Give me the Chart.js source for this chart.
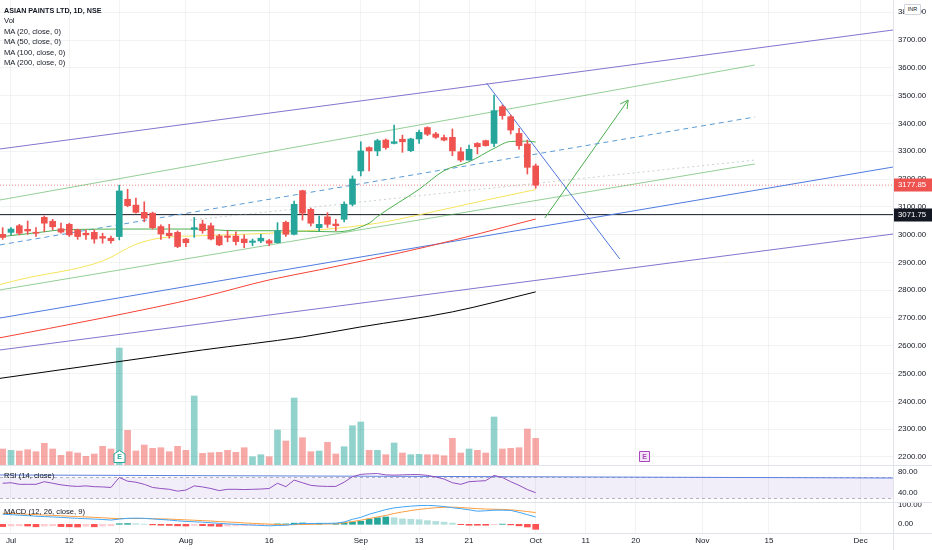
<!DOCTYPE html>
<html>
<head>
<meta charset="utf-8">
<title>ASIAN PAINTS LTD, 1D, NSE</title>
<script src="https://cdn.jsdelivr.net/npm/chart.js@4.4.1/dist/chart.umd.min.js"></script>
<style>
  html, body { margin:0; padding:0; background:#fff; }
  #wrap { position:relative; width:932px; height:550px; overflow:hidden; font-family:"Liberation Sans", Arial, sans-serif; color:#131722; }
  .pane { position:absolute; left:0; width:932px; }
  .txt { position:absolute; left:4px; font-size:7.6px; line-height:10px; white-space:nowrap; }
  .sep { position:absolute; background:#e0e3eb; }
  #inr { position:absolute; left:904px; top:4px; width:15px; height:9px; border:1px solid #d1d4dc; background:#fff;
         font-size:5.5px; line-height:9px; text-align:center; color:#131722; border-radius:1px; }
</style>
</head>
<body>
<div id="wrap">
  <div class="pane" style="top:0;height:465px"><canvas id="priceChart"></canvas></div>
  <div class="pane" style="top:466px;height:36px"><canvas id="rsiChart"></canvas></div>
  <div class="pane" style="top:503px;height:47px"><canvas id="macdChart"></canvas></div>

  <div class="sep" style="left:0;top:465px;width:932px;height:1px"></div>
  <div class="sep" style="left:0;top:502px;width:932px;height:1px"></div>
  <div class="sep" style="left:0;top:533px;width:932px;height:1px"></div>
  <div class="sep" style="left:893px;top:0;width:1px;height:550px"></div>

  <div class="txt" style="top:6px;font-weight:bold;font-size:7.2px">ASIAN PAINTS LTD, 1D, NSE</div>
  <div class="txt" style="top:16px">Vol</div>
  <div class="txt" style="top:27px">MA (20, close, 0)</div>
  <div class="txt" style="top:37px">MA (50, close, 0)</div>
  <div class="txt" style="top:48px">MA (100, close, 0)</div>
  <div class="txt" style="top:58px">MA (200, close, 0)</div>
  <div class="txt" style="top:471px">RSI (14, close)</div>
  <div class="txt" style="top:507px">MACD (12, 26, close, 9)</div>
  <div id="inr">INR</div>
</div>

<script>
// Bars, Jun 30 .. Oct 1 (first bar is index -1, Jul 1 is index 0)
const barDates = [
  "Jun 30","Jul 1","Jul 2","Jul 5","Jul 6","Jul 7","Jul 8","Jul 9","Jul 12","Jul 13","Jul 14","Jul 15","Jul 16",
  "Jul 19","Jul 20","Jul 22","Jul 23","Jul 26","Jul 27","Jul 28","Jul 29","Jul 30",
  "Aug 2","Aug 3","Aug 4","Aug 5","Aug 6","Aug 9","Aug 10","Aug 11","Aug 12","Aug 13","Aug 16","Aug 17","Aug 18",
  "Aug 20","Aug 23","Aug 24","Aug 25","Aug 26","Aug 27","Aug 30","Aug 31",
  "Sep 1","Sep 2","Sep 3","Sep 6","Sep 7","Sep 8","Sep 9","Sep 13","Sep 14","Sep 15","Sep 16","Sep 17",
  "Sep 20","Sep 21","Sep 22","Sep 23","Sep 24","Sep 27","Sep 28","Sep 29","Sep 30","Oct 1"
];
const opens  = [3001,3008,3032,3019,3008,3062,3048,3021,3037,3017,3005,3008,2993,2987,2993,3127,3106,3080,3077,3029,3005,3008,
  2984,3019,3038,3032,2995,2995,2995,2984,2972,2977,2978,2971,3044,3001,3158,3091,3025,3064,3038,3055,3109,
  3229,3313,3301,3340,3328,3343,3302,3344,3385,3362,3349,3350,3298,3268,3328,3338,3328,3460,3424,3364,3326,3247];
const highs  = [3025,3025,3037,3049,3025,3067,3055,3041,3041,3020,3017,3017,3005,2995,3178,3163,3131,3118,3081,3035,3037,3013,
  2987,3062,3052,3041,3001,3014,3010,2999,2984,3001,2983,3043,3049,3121,3160,3095,3067,3079,3055,3118,3211,
  3334,3316,3343,3344,3394,3358,3347,3376,3388,3368,3358,3380,3313,3322,3331,3340,3502,3466,3430,3382,3340,3254];
const lows   = [2983,2999,2999,3001,2993,3010,3017,3005,2993,2983,2983,2969,2969,2969,2981,3100,3077,3046,3020,2983,2987,2953,
  2957,2990,3005,2981,2960,2974,2963,2953,2960,2971,2960,2969,2993,2999,3052,3031,3013,3026,3014,3046,3103,
  3211,3229,3284,3307,3326,3296,3298,3328,3356,3346,3337,3284,3262,3268,3290,3318,3316,3415,3362,3307,3218,3167];
const closes = [2990,3020,3005,3013,3005,3041,3028,3009,2999,2993,2999,2984,2987,2978,3157,3104,3080,3059,3025,3002,2996,2957,
  2971,3025,3014,2984,2963,2990,2975,2971,2977,2987,2969,3014,3001,3109,3077,3041,3037,3037,3032,3109,3200,
  3301,3301,3338,3313,3334,3334,3344,3368,3361,3350,3340,3301,3268,3307,3316,3320,3446,3428,3376,3320,3242,3177.85];
// volume, thousand shares
const volumes = [1600,1470,1400,1530,1330,2170,1600,970,1330,1200,870,1100,1870,1600,11700,3470,1400,2000,1670,1730,1330,1870,
  1470,6900,1170,1230,1270,1470,1270,1730,830,1030,830,3500,2400,6700,2730,1330,1400,2270,1100,1830,3930,
  4300,1470,1470,1030,2200,1200,1030,1070,1030,1030,930,2670,1200,1600,1470,1200,4800,1600,1670,1730,3600,2670];

// indicators
const rsiVals = [59,60,57,57,57,62,59,56,54,53,54,52.5,52,51,70,63,61,57,51,49,47.5,44,
  46,54,52,49,45,47.5,47.5,47,47.5,48,49,59,52.5,65,60,55,53.5,53,53,61,71.5,
  76,77,77.5,75,74.5,75,75.5,75.5,74,71,67,60,57,62,63,64,74,70,62,55,47,41];
const macdVals = [52,50,47,45,42,40,38,36,33,31,29,27,25,22,27,31,32,31,28,25,22,18,
  15,13,11,8,5,2,0,-2,-4,-6,-8,-6,-5,1,4,4,5,5,6,12,26,
  36,52,64,76,85,90,94,97,98,96,92,86,81,75,68,70,73,73,72,62,50,38];
const signalVals = [57,56,54,52,50,48,46,44,42,40,38,36,34,31,30,30,30,30,29,28,27,25,
  23,21,19,17,14,12,10,7,5,3,1,-1,-2,-2,-1,0,1,2,3,8,14,
  21,30,38,46,56,64,71,77,82,86,88,89,87,84,81,79,78,77,75,71,66,61];
const histVals = [-12,-9,-8,-9,-13,-9,-8,-12,-13,-14,-10,-13,-9,-8,3,4,3,1,-3,-5,-6,-8,
  -9,-6,-7,-9,-11,-9,-8,-7,-5,-3,-2,2,2,6,7,5,5,4,5,8,12,
  16,27,34,38,34,28,26,24,19,15,11,6,-2,-5,-5,-5,-2,1,-3,-8,-14,-26];

// moving averages: [bar index, value]
const ma20Pts  = [[-2,2990],[-1,2993],[4,3010],[6,3017],[15,3020],[22,3020],[27,3014],[32,3014],[39,3010],[43,3041],
  [44,3065],[49,3163],[52,3230],[55,3262],[58,3310],[60,3335],[62,3336],[63,3333]];
const ma50Pts  = [[-2,2815],[1,2838],[11,2905],[15,2965],[18,2988],[23,2996],[31,3005],[37,3017],[44,3041],[49,3071],[57,3124],[63,3162]];
const ma100Pts = [[-2,2625],[11,2700],[23,2776],[31,2837],[37,2873],[50,2957],[63,3056]];
const ma200Pts = [[-2,2480],[11,2535],[23,2585],[35,2632],[42,2668],[53,2722],[63,2794]];

// drawings: [bar index, price]
const purpleUpper = [[-1.32,3308],[105.9,3736]];
const purpleLower = [[-1.32,2585],[105.9,3002]];
const blueChannel = [[-1.32,2700],[105.9,3243]];
const greenUpper  = [[-1.32,3124.5],[89.3,3610]];
const greenLower  = [[-1.32,2801],[89.3,3254]];
const blueDashed  = [[-1.32,2963],[89.3,3423]];
const faintDotted = [[21.5,3052],[89.3,3268]];
const steepBlue   = [[57.1,3545],[73.1,2912]];
const greenArrow  = [[64.1,3060],[74.1,3484]];
const rsiTrend    = [[-1.32,74.8],[105.9,69]];
const hLevel = 3071.75;
const lastPrice = 3177.85;

const tickIdx  = [0,7,13,21,31,42,49,55,63,69,75,83,91,102];
const tickText = ["Jul","12","20","Aug","16","Sep","13","21","Oct","11","20","Nov","15","Dec"];
const rsiBands = [70,30];
const rsiTicks = [40,80];
const macdTicks = [0,100];
const earnIdx = [13,76];

// ---- style ----
const UP = "#26a69a", DOWN = "#ef5350";
const GRID = "rgba(42,46,57,0.06)";
const FONT = '"Liberation Sans", Arial, sans-serif';
const xMin = -1.32, xMax = 105.9;
const barIdx = barDates.map((d, k) => k - 1);

Chart.defaults.font.family = FONT;
Chart.defaults.color = "#131722";

function xScale(showLabels){
  return {
    type: "linear", min: xMin, max: xMax, offset: false,
    afterBuildTicks: s => { s.ticks = tickIdx.map(v => ({ value: v })); },
    ticks: { display: showLabels, autoSkip: false, maxRotation: 0, padding: 3, font: { size: 8 },
             callback: (v, i) => tickText[i] },
    grid: { color: GRID, drawTicks: false, offset: false },
    border: { display: false },
    afterFit: s => { s.height = showLabels ? 17 : 0; s.paddingLeft = 0; s.paddingRight = 0; }
  };
}
function yFit(s){ s.width = 39; s.paddingTop = 0; s.paddingBottom = 0; }

function seg(pts, color, width, dash, order, axis){
  return { type: "line", data: pts.map(p => ({ x: p[0], y: p[1] })), borderColor: color, borderWidth: width,
           borderDash: dash || [], pointRadius: 0, fill: false, tension: 0, order: order, yAxisID: axis || "y" };
}
function maLine(pts, color){
  const d = seg(pts, color, 1, [], 2);
  d.cubicInterpolationMode = "monotone";
  return d;
}
const isUp = k => closes[k] >= opens[k];
const baseOpts = { responsive: true, maintainAspectRatio: false, animation: false, events: [],
                   layout: { padding: 0 }, plugins: { legend: { display: false }, tooltip: { enabled: false } } };

// price tags on the axis
const priceTags = {
  id: "priceTags",
  afterDraw(chart){
    const { ctx, chartArea, scales: { y } } = chart;
    [[lastPrice, DOWN], [hLevel, "#131722"]].forEach(([lvl, col]) => {
      const py = Math.round(y.getPixelForValue(lvl));
      ctx.save();
      ctx.fillStyle = col;
      ctx.fillRect(chartArea.right + 1, py - 6.5, 38, 13);
      ctx.fillStyle = "#fff";
      ctx.font = "7.8px " + FONT;
      ctx.textBaseline = "middle";
      ctx.textAlign = "left";
      ctx.fillText(lvl.toFixed(2), chartArea.right + 5, py);
      ctx.restore();
    });
  }
};
// arrow head + earnings markers
const priceMarks = {
  id: "priceMarks",
  afterDatasetsDraw(chart){
    const { ctx, chartArea, scales: { x, y } } = chart;
    const [a, b] = greenArrow;
    const x1 = x.getPixelForValue(a[0]), y1 = y.getPixelForValue(a[1]);
    const x2 = x.getPixelForValue(b[0]), y2 = y.getPixelForValue(b[1]);
    const ang = Math.atan2(y2 - y1, x2 - x1);
    ctx.save();
    ctx.strokeStyle = "#4caf50"; ctx.lineWidth = 1;
    ctx.beginPath();
    [-0.5, 0.5].forEach(d => { ctx.moveTo(x2, y2); ctx.lineTo(x2 - 9 * Math.cos(ang + d), y2 - 9 * Math.sin(ang + d)); });
    ctx.stroke();

    earnIdx.forEach((v, k) => {
      const px = Math.round(x.getPixelForValue(v)) + 0.5, top = chartArea.bottom - 14.5;
      ctx.lineWidth = 1;
      ctx.beginPath();
      if (k === 0) {
        ctx.fillStyle = "#fff"; ctx.strokeStyle = UP;
        ctx.moveTo(px, top); ctx.lineTo(px + 5.5, top + 3.5); ctx.lineTo(px + 5.5, top + 12);
        ctx.lineTo(px - 5.5, top + 12); ctx.lineTo(px - 5.5, top + 3.5); ctx.closePath();
      } else {
        ctx.fillStyle = "#f3e5f5"; ctx.strokeStyle = "#ab47bc";
        ctx.rect(px - 5, top + 1, 10, 10);
      }
      ctx.fill(); ctx.stroke();
      ctx.fillStyle = k === 0 ? UP : "#ab47bc";
      ctx.font = "bold 7px " + FONT;
      ctx.textAlign = "center"; ctx.textBaseline = "middle";
      ctx.fillText("E", px, top + 7);
    });
    ctx.restore();
  }
};

// ---- price pane ----
new Chart(document.getElementById("priceChart"), {
  type: "bar",
  data: { datasets: [
    { type: "bar", data: barIdx.map((x, k) => ({ x, y: [opens[k], closes[k]] })), yAxisID: "y",
      backgroundColor: c => isUp(c.dataIndex) ? UP : DOWN, barThickness: 6, minBarLength: 1, grouped: false, order: 0 },
    { type: "bar", data: barIdx.map((x, k) => ({ x, y: [lows[k], highs[k]] })), yAxisID: "y",
      backgroundColor: c => isUp(c.dataIndex) ? UP : DOWN, barThickness: 1, grouped: false, order: 1 },
    maLine(ma20Pts, "#4caf50"),
    maLine(ma50Pts, "#f7e45c"),
    maLine(ma100Pts, "#f44336"),
    maLine(ma200Pts, "#000000"),
    seg(purpleUpper, "rgba(120,100,200,0.9)", 1, [], 3),
    seg(purpleLower, "rgba(120,100,200,0.9)", 1, [], 3),
    seg(blueChannel, "#4f7be0", 1, [], 3),
    seg(greenUpper, "rgba(76,175,80,0.6)", 1, [], 3),
    seg(greenLower, "rgba(76,175,80,0.6)", 1, [], 3),
    seg(blueDashed, "#5b9bd5", 1, [5, 4], 3),
    seg(faintDotted, "rgba(150,170,150,0.5)", 1, [2, 3], 3),
    seg(steepBlue, "#4f74dd", 1, [], 3),
    seg(greenArrow, "#4caf50", 1, [], 3),
    seg([[xMin, hLevel], [xMax, hLevel]], "#131722", 1, [], 3),
    seg([[xMin, lastPrice], [xMax, lastPrice]], "rgba(239,83,80,0.7)", 1, [1, 2], 3),
    { type: "bar", data: barIdx.map((x, k) => ({ x, y: volumes[k] })), yAxisID: "yv",
      backgroundColor: c => isUp(c.dataIndex) ? "rgba(38,166,154,0.5)" : "rgba(239,83,80,0.5)",
      barThickness: 6, grouped: false, order: 5 }
  ]},
  options: Object.assign({}, baseOpts, {
    scales: {
      x: xScale(false),
      y: { position: "right", min: 2171.2, max: 3843.9,
           ticks: { stepSize: 100, includeBounds: false, padding: 5, font: { size: 7.8 }, callback: v => v.toFixed(2) },
           grid: { color: GRID, drawTicks: false }, border: { display: false }, afterFit: yFit },
      yv: { display: false, min: 0, max: 46500 }
    }
  }),
  plugins: [priceMarks, priceTags]
});

// ---- RSI pane ----
new Chart(document.getElementById("rsiChart"), {
  type: "line",
  data: { datasets: [
    seg(barIdx.map((x, k) => [x, rsiVals[k]]), "#9150c0", 1, [], 0),
    seg([[xMin, rsiBands[0]], [xMax, rsiBands[0]]], "rgba(120,123,134,0.55)", 1, [3, 3], 2),
    Object.assign(seg([[xMin, rsiBands[1]], [xMax, rsiBands[1]]], "rgba(120,123,134,0.55)", 1, [3, 3], 2),
                  { fill: "-1", backgroundColor: "rgba(126,87,194,0.1)" }),
    seg(rsiTrend, "#5d7fe0", 1, [], 1)
  ]},
  options: Object.assign({}, baseOpts, {
    scales: {
      x: xScale(false),
      y: { position: "right", min: 23.3, max: 91.9,
           afterBuildTicks: s => { s.ticks = rsiTicks.map(v => ({ value: v })); },
           ticks: { padding: 5, font: { size: 7.8 }, callback: v => v.toFixed(2) },
           grid: { display: false, drawTicks: false }, border: { display: false }, afterFit: yFit }
    }
  })
});

// ---- MACD pane ----
new Chart(document.getElementById("macdChart"), {
  type: "bar",
  data: { datasets: [
    seg(barIdx.map((x, k) => [x, macdVals[k]]), "#42a5f5", 1, [], 0),
    seg(barIdx.map((x, k) => [x, signalVals[k]]), "#ff9e40", 1, [], 1),
    { type: "bar", data: barIdx.map((x, k) => ({ x, y: histVals[k] })), yAxisID: "y", grouped: false, order: 2,
      barThickness: 6,
      backgroundColor: c => {
        const k = c.dataIndex, v = histVals[k], p = k > 0 ? histVals[k - 1] : v;
        if (v >= 0) return v >= p ? "#26a69a" : "#b2dfdb";
        return v <= p ? "#ff5252" : "#ffcdd2";
      } }
  ]},
  options: Object.assign({}, baseOpts, {
    scales: {
      x: xScale(true),
      y: { position: "right", min: -45.1, max: 110.4,
           afterBuildTicks: s => { s.ticks = macdTicks.map(v => ({ value: v })); },
           ticks: { padding: 5, font: { size: 7.8 }, callback: v => v.toFixed(2) },
           grid: { display: false, drawTicks: false }, border: { display: false }, afterFit: yFit }
    }
  })
});
</script>
</body>
</html>
